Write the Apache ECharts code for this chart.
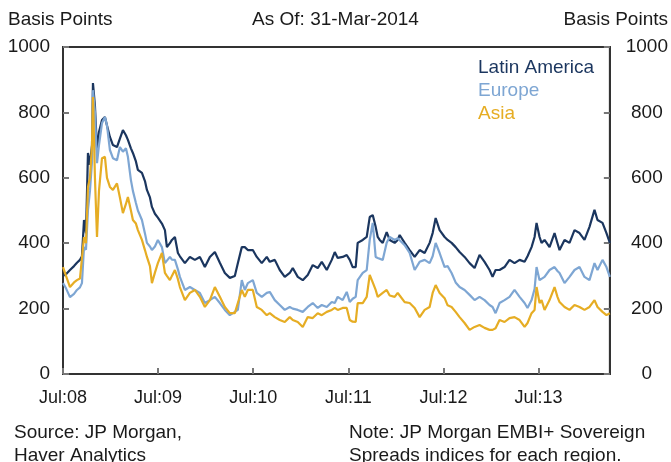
<!DOCTYPE html>
<html>
<head>
<meta charset="utf-8">
<script src="https://cdn.jsdelivr.net/npm/echarts@6/dist/echarts.min.js"></script>
<style>
  html, body { margin: 0; padding: 0; background: #ffffff; }
  #chart { width: 671px; height: 462px; }
</style>
</head>
<body>
<div id="chart"></div>
<script>
// Sample positions, in months elapsed since 1 July 2008 (last = 31 March 2014)
const months = [
  0, 0.38, 0.88, 1.39, 1.76, 2.14, 2.39, 2.65, 2.90, 3.15, 3.40, 3.66, 3.78, 4.03, 4.29, 4.54, 4.92, 5.29,
  5.55, 5.92, 6.30, 6.81, 7.18, 7.56, 7.94, 8.19, 8.57, 8.82, 9.20, 9.45, 9.96, 10.34, 10.59, 10.97, 11.22, 11.60,
  11.97, 12.48, 12.86, 13.11, 13.49, 13.74, 14.12, 14.50, 14.75, 15.38, 16.01, 16.64, 17.27, 17.90, 18.53, 19.16,
  19.79, 20.42, 21.05, 21.68, 22.06, 22.56, 22.94, 23.32, 23.95,
  24.45, 25.08, 25.71, 26.09, 26.72, 27.35, 27.98, 28.61, 28.99, 29.62, 30.25, 30.88, 31.51, 32.14, 32.65, 33.28,
  33.91, 34.29, 34.66, 35.29, 35.80,
  36.18, 36.55, 36.93, 37.18, 37.82, 38.32, 38.70, 39.08, 39.45, 39.71, 39.96, 40.34, 40.84, 41.22, 41.85, 42.23,
  42.48, 43.11, 43.74, 44.37, 45.00, 45.63, 46.26, 46.64, 47.02, 47.52, 48.15,
  48.53, 49.03, 49.54, 50.04, 50.67, 51.30, 51.93, 52.56, 53.19, 53.82, 54.20, 54.58, 55.08, 55.71, 56.34, 56.97,
  57.61, 58.24, 58.61, 59.12, 59.50, 59.75, 60.13,
  60.38, 60.76, 61.39, 62.02, 62.39, 62.65, 63.28, 63.91, 64.54, 65.17, 65.80, 66.43, 67.06, 67.44, 68.07, 68.57, 69
];

// EMBI+ sovereign spreads, basis points
const latinAmerica = [
  300, 305, 318, 330, 340, 349, 360, 471, 430, 676, 640, 700, 890, 820, 685, 740, 777, 786,
  760, 725, 700, 694, 720, 746, 730, 716, 690, 676, 650, 624, 615, 590, 563, 540, 511, 490,
  478, 460, 440, 388, 400, 410, 419, 370, 360, 339, 358, 349, 358, 327, 358, 373,
  340, 309, 294, 300, 339, 388, 388, 379, 379,
  358, 339, 358, 343, 349, 318, 297, 309, 324, 297, 287, 303, 333, 324, 343, 318,
  349, 373, 355, 358, 364,
  349, 327, 327, 401, 410, 419, 480, 486, 450, 419, 410, 401, 434, 410, 401, 410,
  425, 401, 379, 358, 379, 370, 401, 431, 477, 440, 419,
  410, 401, 388, 373, 358, 339, 324, 364, 343, 318, 297, 318, 318, 327, 349, 339,
  349, 343, 360, 388, 419, 462, 419,
  401, 410, 388, 431, 400, 379, 410, 401, 440, 431, 410, 450, 502, 471, 462, 431, 401
];

const europe = [
  278, 262, 235, 245, 257, 265, 278, 388, 380, 502, 560, 650, 868, 800, 645, 700, 767, 786,
  760, 685, 660, 654, 694, 680, 690, 664, 593, 560, 523, 500, 471, 430, 401, 390, 379, 390,
  410, 388, 339, 345, 358, 350, 349, 320, 297, 257, 266, 257, 248, 217, 226, 236,
  217, 196, 180, 190, 196, 287, 257, 278, 287,
  248, 236, 248, 251, 226, 211, 196, 205, 200, 196, 190, 205, 217, 202, 211, 205,
  220, 217, 236, 226, 251,
  220, 230, 236, 287, 309, 318, 410, 462, 358, 355, 349, 349, 401, 419, 410, 415,
  419, 394, 370, 318, 343, 349, 339, 360, 401, 370, 327,
  330, 309, 280, 266, 257, 242, 226, 236, 226, 211, 205, 186, 217, 226, 236, 257,
  236, 217, 202, 226, 260, 327, 287,
  287, 297, 318, 327, 315, 309, 278, 297, 318, 327, 297, 287, 339, 318, 349, 327, 297
];

const asia = [
  327, 300, 266, 280, 287, 292, 297, 419, 400, 572, 600, 700, 847, 600, 419, 560, 660, 664,
  600, 572, 563, 583, 540, 492, 520, 541, 500, 471, 460, 440, 410, 379, 358, 330, 278, 310,
  339, 370, 309, 300, 287, 300, 318, 290, 266, 226, 248, 257, 236, 205, 226, 266,
  236, 205, 186, 186, 217, 257, 236, 257, 257,
  205, 196, 180, 186, 174, 165, 159, 174, 165, 159, 144, 174, 171, 186, 180, 190,
  196, 202, 196, 202, 202,
  165, 160, 159, 217, 217, 236, 303, 280, 257, 236, 240, 248, 257, 240, 236, 248,
  240, 220, 217, 202, 174, 196, 205, 248, 272, 248, 232,
  210, 205, 190, 174, 156, 135, 144, 150, 141, 135, 135, 140, 165, 159, 171, 174,
  165, 144, 156, 186, 196, 266, 217,
  226, 196, 226, 266, 236, 220, 205, 196, 211, 205, 196, 205, 226, 205, 190, 180, 186
];

// Axis ticks
const yTicks = [0, 200, 400, 600, 800, 1000];
const xTickLabels = ['Jul:08', 'Jul:09', 'Jul:10', 'Jul:11', 'Jul:12', 'Jul:13'];

const seriesNames = ['Latin America', 'Europe', 'Asia'];
const seriesColors = ['#1b365f', '#7ea6d3', '#e6ad24'];

const FONT = "'Liberation Sans', Arial, sans-serif";
const INK = '#1a1a1a';
const FRAME = '#333333';

const pair = (vals) => months.map((m, i) => [m, vals[i]]);

const yAxisBase = {
  type: 'value',
  min: yTicks[0],
  max: yTicks[yTicks.length - 1],
  interval: yTicks[1] - yTicks[0],
  splitLine: { show: false },
  axisLine: { show: true, lineStyle: { color: FRAME, width: 2 } },
  axisTick: { show: true, inside: true, length: 6, lineStyle: { color: '#777', width: 2 } }
};

const chart = echarts.init(document.getElementById('chart'), null, { renderer: 'canvas' });

chart.setOption({
  animation: false,
  backgroundColor: '#ffffff',
  textStyle: { fontFamily: FONT },
  grid: {
    left: 63, right: 61, top: 47, bottom: 88,
    show: true, borderColor: FRAME, borderWidth: 2, backgroundColor: 'transparent'
  },
  xAxis: {
    type: 'value',
    min: 0,
    max: 69,
    interval: 12,
    splitLine: { show: false },
    axisLine: { show: true, onZero: false, lineStyle: { color: FRAME, width: 2 } },
    axisTick: { show: true, inside: true, length: 6, lineStyle: { color: '#777', width: 2 } },
    axisLabel: {
      color: INK, fontSize: 18, fontFamily: FONT, margin: 15, showMaxLabel: false,
      formatter: (v) => xTickLabels[Math.round(v / 12)] || ''
    }
  },
  yAxis: [
    Object.assign({}, yAxisBase, {
      position: 'left',
      axisLabel: { color: INK, fontSize: 19, fontFamily: FONT, margin: 13, align: 'right', formatter: (v) => String(v) }
    }),
    Object.assign({}, yAxisBase, {
      position: 'right',
      axisLabel: { color: INK, fontSize: 19, fontFamily: FONT, margin: 37, align: 'center', formatter: (v) => String(v) }
    })
  ],
  legend: {
    orient: 'vertical',
    left: 468,
    top: 52,
    itemWidth: 0,
    itemHeight: 0,
    itemGap: 2,
    selectedMode: false,
    textStyle: { fontSize: 19, fontFamily: FONT, lineHeight: 21 },
    data: seriesNames.map((n, i) => ({ name: n, icon: 'rect', textStyle: { color: seriesColors[i] } }))
  },
  series: seriesNames.map((name, i) => ({
    name,
    type: 'line',
    data: pair([latinAmerica, europe, asia][i]),
    showSymbol: false,
    symbol: 'none',
    lineStyle: { color: seriesColors[i], width: 2.2 },
    itemStyle: { color: seriesColors[i] },
    z: 2 + i
  })),
  graphic: [
    { type: 'text', left: 8, top: 10, style: { text: 'Basis Points', font: '19px ' + FONT, fill: INK } },
    { type: 'text', left: 'center', top: 10, style: { text: 'As Of: 31-Mar-2014', font: '19px ' + FONT, fill: INK } },
    { type: 'text', right: 3, top: 10, style: { text: 'Basis Points', font: '19px ' + FONT, fill: INK } },
    { type: 'text', left: 14, top: 421, style: { text: 'Source: JP Morgan,\nHaver Analytics', font: '19px ' + FONT, fill: INK, lineHeight: 23 } },
    { type: 'text', left: 349, top: 421, style: { text: 'Note: JP Morgan EMBI+ Sovereign\nSpreads indices for each region.', font: '19px ' + FONT, fill: INK, lineHeight: 23 } }
  ]
});
</script>
</body>
</html>
